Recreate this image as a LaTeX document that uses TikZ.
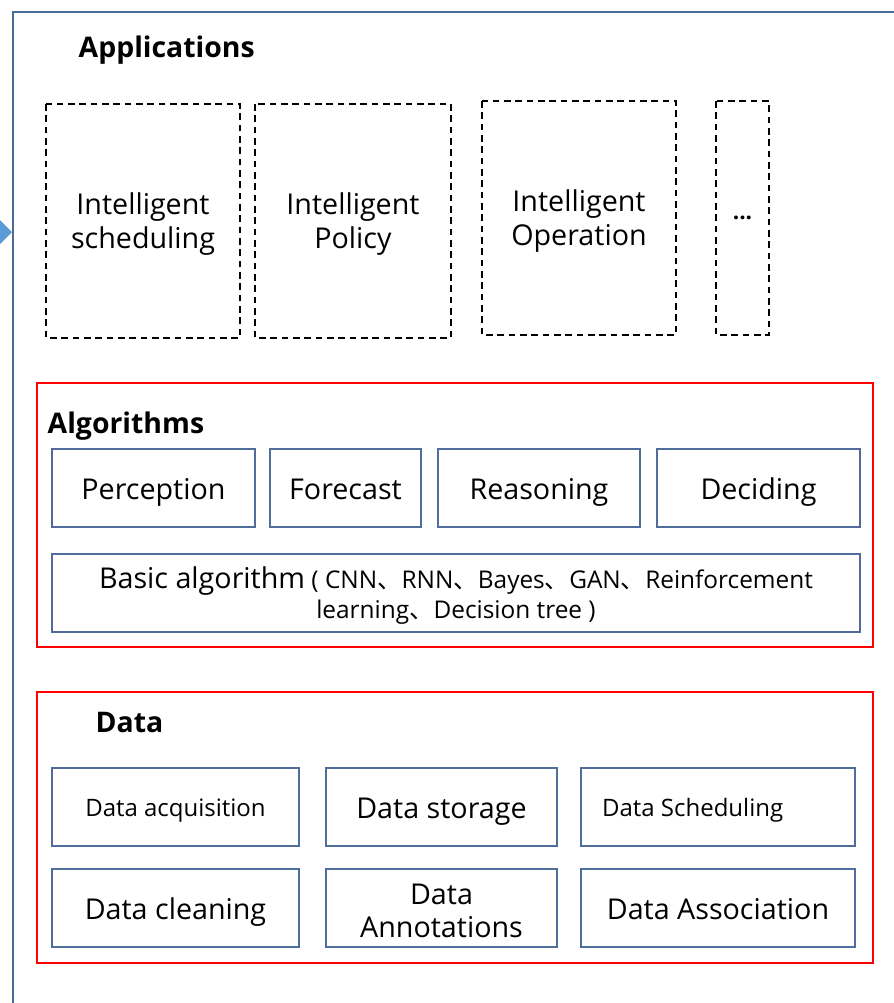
\documentclass[tikz,border=0pt]{standalone}
\usepackage{fontspec}
\setmainfont{Open Sans}
\newfontfamily\cjk{Noto Sans CJK SC}
\usetikzlibrary{positioning}
\definecolor{frameblue}{HTML}{4A6A9A}
\definecolor{boxblue}{HTML}{4F6E9C}
\definecolor{arrowblue}{HTML}{5B9BD5}

\tikzset{
	appbox/.style={draw=black, line width=1.3pt, dash pattern=on 5pt off 3.5pt},
	algbox/.style={draw=boxblue, line width=1.4pt},
	layerbox/.style={draw=red, line width=1.3pt},
	bigtext/.style={font=\fontsize{21.5}{25.5}\selectfont, align=center},
	smalltext/.style={font=\fontsize{18}{21}\selectfont, align=center},
	% einzeilige texte mittig auf den grossbuchstaben
	oneline/.style={text height=17pt, text depth=0pt},
	smallline/.style={text height=13.5pt, text depth=0pt},
	titletext/.style={font=\fontsize{21.3}{24}\selectfont\bfseries, anchor=west}
}

\begin{document}
\begin{tikzpicture}[x=0.75pt, y=-0.75pt]
	\useasboundingbox (0,0) rectangle (893,1003);
	% aeusserer rahmen
	\draw[frameblue, line width=1.5pt] (13,1010) -- (13,12) -- (900,12);
	\fill[arrowblue] (0,220) -- (12,232) -- (0,244) -- cycle;
	% applications
	\node[titletext] (apptitle) at (74,50) {Applications};
	\draw[appbox] (46,104) rectangle (240,338)
		node[midway, bigtext, yshift=-2pt] (sched) {Intelligent\\scheduling};
	\draw[appbox] (255,104) rectangle (451,338)
		node[midway, bigtext, yshift=-2pt] (policy) {Intelligent\\Policy};
	\draw[appbox] (482,101) rectangle (676,335)
		node[midway, bigtext, yshift=-2pt] (operation) {Intelligent\\Operation};
	\draw[appbox] (716,101) rectangle (769,335)
		node[midway, font=\fontsize{17}{18}\selectfont\bfseries] (more) {...};
	% algorithms
	\draw[layerbox] (37,383) rectangle (873,647);
	\node[titletext] (algtitle) at (43,426) {Algorithms};
	\draw[algbox] (52,449) rectangle (255,527)
		node[midway, bigtext, oneline] (percep) {Perception};
	\draw[algbox] (270,449) rectangle (421,527)
		node[midway, bigtext, oneline] (forecast) {Forecast};
	\draw[algbox] (438,449) rectangle (640,527)
		node[midway, bigtext, oneline] (reason) {Reasoning};
	\draw[algbox] (657,449) rectangle (860,527)
		node[midway, bigtext, oneline] (decide) {Deciding};
	\draw[algbox] (52,554) rectangle (860,632)
		node[midway, align=center, font=\fontsize{18.3}{22}\selectfont, yshift=-2pt] (basic)
		{{\fontsize{21.5}{22}\selectfont Basic algorithm} ( CNN{\cjk 、}RNN{\cjk 、}Bayes{\cjk 、}GAN{\cjk 、}Reinforcement\\
		learning{\cjk 、}Decision tree )};
	% data
	\draw[layerbox] (37,692) rectangle (873,963);
	\node[titletext] (datatitle) at (91,722) {Data};
	\draw[algbox] (52,768) rectangle (299,846)
		node[midway, smalltext, smallline] (acq) {Data acquisition};
	\draw[algbox] (326,768) rectangle (557,846)
		node[midway, bigtext, oneline] (storage) {Data storage};
	\draw[algbox] (581,768) rectangle (855,846)
		node[midway, smalltext, smallline, xshift=-19pt] (schedule) {Data Scheduling};
	\draw[algbox] (52,869) rectangle (299,947)
		node[midway, bigtext, oneline] (clean) {Data cleaning};
	\draw[algbox] (326,869) rectangle (557,947)
		node[midway, font=\fontsize{21.5}{25}\selectfont, align=center, yshift=-2pt] (annot) {Data\\Annotations};
	\draw[algbox] (581,869) rectangle (855,947)
		node[midway, bigtext, oneline] (assoc) {Data Association};
\end{tikzpicture}
\end{document}
